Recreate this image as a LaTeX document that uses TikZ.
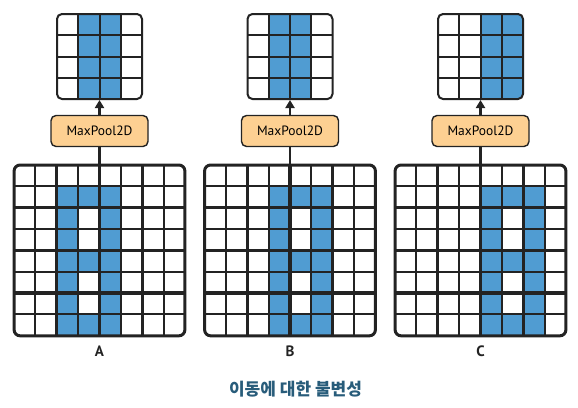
\documentclass[tikz,border=0pt]{standalone}
\usepackage{fontspec}
\setmainfont{PT Sans}
\newfontfamily\krfont{Noto Sans CJK KR}
\usetikzlibrary{arrows.meta}
\definecolor{cellblue}{RGB}{80,156,210}
\definecolor{poolorange}{RGB}{253,208,146}
\definecolor{gridline}{RGB}{35,35,35}
\definecolor{titleblue}{RGB}{40,92,122}

\begin{document}
\begin{tikzpicture}
  [
    x=1pt, y=-1pt,
    font=\fontsize{13.5}{15}\selectfont,
    big grid/.style={draw=gridline,line width=3pt,rounded corners=6pt,minimum size=170.8pt,inner sep=0pt},
    small grid/.style={draw=gridline,line width=2pt,rounded corners=5pt,minimum size=85pt,inner sep=0pt},
    pool box/.style={draw=gridline,line width=1.4pt,fill=poolorange,rounded corners=5pt,minimum width=97pt,minimum height=31pt,inner sep=0pt},
    thin line/.style={gridline,line width=2pt},
    thick line/.style={gridline,line width=3.3pt},
    panel label/.style={font=\fontsize{15}{17}\selectfont\bfseries,text=gridline},
    flow/.style={gridline,line width=2.5pt},
  ]
  \useasboundingbox (0,0) rectangle (578,407);

  \foreach \panel/\cx/\s/\p in {A/99.5/0/1,B/290/1/1,C/480.5/2/2}{
    % input 8x8
    \begin{scope}[shift={(\cx-85.4,165)}]
      \foreach \r in {1,...,7}{
        \fill[cellblue] ({(2+\s)*21.35},{\r*21.35}) rectangle ++(21.35,21.35);
        \fill[cellblue] ({(4+\s)*21.35},{\r*21.35}) rectangle ++(21.35,21.35);
      }
      \foreach \r in {1,4,7}
        \fill[cellblue] ({(3+\s)*21.35},{\r*21.35}) rectangle ++(21.35,21.35);
      \foreach \k in {1,3,5,7}{
        \draw[thin line] ({\k*21.35},0) -- ({\k*21.35},170.8);
        \draw[thin line] (0,{\k*21.35}) -- (170.8,{\k*21.35});
      }
      \foreach \k in {2,4,6}{
        \draw[thick line] ({\k*21.35},0) -- ({\k*21.35},170.8);
        \draw[thick line] (0,{\k*21.35}) -- (170.8,{\k*21.35});
      }
    \end{scope}
    % pooled 4x4
    \begin{scope}[shift={(\cx-42.5,14)}]
      \begin{scope}
        \clip[rounded corners=5pt] (0,0) rectangle (85,85);
        \fill[cellblue] ({\p*21.25},0) rectangle ++(42.5,85);
      \end{scope}
      \foreach \k in {1,2,3}{
        \draw[thin line] ({\k*21.25},0) -- ({\k*21.25},85);
        \draw[thin line] (0,{\k*21.25}) -- (85,{\k*21.25});
      }
    \end{scope}

    \node[big grid] (in-\panel) at (\cx,250.4) {};
    \node[small grid] (out-\panel) at (\cx,56.5) {};
    \node[pool box] (pool-\panel) at (\cx,131) {MaxPool2D};
    \node[panel label] (label-\panel) at (\cx,351.5) {\panel};
    \draw[flow] (in-\panel.north) -- (pool-\panel.south);
    \draw[flow,-{Triangle[width=9pt,length=8pt]}] (pool-\panel.north) -- (out-\panel.south);
  }

  \node[font=\krfont\bfseries\fontsize{17}{20}\selectfont,text=titleblue] (title) at (295.5,389) {이동에 대한 불변성};

\end{tikzpicture}
\end{document}
